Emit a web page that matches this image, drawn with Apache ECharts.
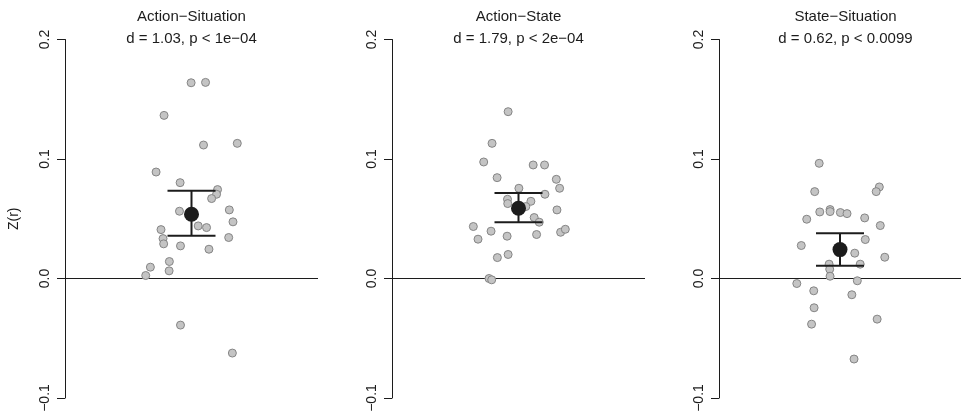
<!DOCTYPE html>
<html>
<head>
<meta charset="utf-8">
<script src="https://cdn.jsdelivr.net/npm/echarts@6/dist/echarts.min.js"></script>
<style>
  html, body { margin: 0; padding: 0; background: #ffffff; }
  #chart { width: 961px; height: 417px; }
</style>
</head>
<body>
<div id="chart"></div>
<script>
// Panel headings
const panelNames = ['Action−Situation', 'Action−State', 'State−Situation'];
const panelStats = ['d = 1.03, p < 1e−04', 'd = 1.79, p < 2e−04', 'd = 0.62, p < 0.0099'];

// Y axis ticks
const yTicks = [-0.1, 0.0, 0.1, 0.2];

// Per-subject Z(r) differences with their horizontal jitter positions (centre = 1)
const actionSituationZ = [0.1638, 0.1641, 0.1365, 0.1117, 0.1131, 0.0891, 0.0802, 0.0744, 0.0705, 0.0669,
  0.0563, 0.0574, 0.0474, 0.0440, 0.0426, 0.0409, 0.0334, 0.0290, 0.0273, 0.0343,
  0.0245, 0.0142, 0.0064, 0.0095, 0.0025, -0.0390, -0.0624];
const actionSituationJitter = [0.997, 1.111, 0.783, 1.095, 1.362, 0.720, 0.910, 1.206, 1.198, 1.159,
  0.905, 1.299, 1.328, 1.053, 1.119, 0.759, 0.775, 0.780, 0.913, 1.294,
  1.138, 0.825, 0.823, 0.675, 0.638, 0.913, 1.323];

const actionStateZ = [0.1396, 0.1131, 0.0975, 0.0950, 0.0950, 0.0844, 0.0830, 0.0755, 0.0755, 0.0705,
  0.0663, 0.0646, 0.0627, 0.0602, 0.0574, 0.0510, 0.0471, 0.0435, 0.0396, 0.0329,
  0.0354, 0.0368, 0.0387, 0.0412, 0.0201, 0.0175, 0.0000, -0.0011];
const actionStateJitter = [0.918, 0.791, 0.725, 1.116, 1.206, 0.831, 1.299, 1.325, 1.003, 1.209,
  0.913, 1.098, 0.915, 1.058, 1.304, 1.124, 1.164, 0.643, 0.783, 0.680,
  0.910, 1.143, 1.333, 1.370, 0.918, 0.833, 0.767, 0.788];

const stateSituationZ = [0.0964, 0.0727, 0.0766, 0.0727, 0.0557, 0.0577, 0.0560, 0.0552, 0.0543, 0.0496,
  0.0507, 0.0443, 0.0326, 0.0276, 0.0212, 0.0178, 0.0120, 0.0120, 0.0078, 0.0019,
  -0.0019, -0.0042, -0.0103, -0.0136, -0.0245, -0.0382, -0.0340, -0.0674];
const stateSituationJitter = [0.828, 0.791, 1.325, 1.299, 0.833, 0.918, 0.918, 1.003, 1.058, 0.725,
  1.204, 1.333, 1.209, 0.680, 1.122, 1.370, 0.910, 1.167, 0.915, 0.918,
  1.143, 0.643, 0.783, 1.098, 0.786, 0.765, 1.307, 1.116];

// Group means with confidence bounds
const panelMeans = [0.0538, 0.0588, 0.0242];
const panelLower = [0.0357, 0.0471, 0.0106];
const panelUpper = [0.0735, 0.0716, 0.0379];

const panelZ = [actionSituationZ, actionStateZ, stateSituationZ];
const panelJitter = [actionSituationJitter, actionStateJitter, stateSituationJitter];

// Layout
const gridLefts = [65, 392, 719];
const gridWidth = 253;
const gridTop = 39.5;
const gridHeight = 358.5;
const FONT = "'Liberation Sans', Arial, Helvetica, sans-serif";
const INK = '#1c1c1c';

const chart = echarts.init(document.getElementById('chart'), null, { renderer: 'canvas' });

const titles = [], grids = [], xAxes = [], yAxes = [], series = [];

panelNames.forEach((name, i) => {
  titles.push({
    text: name,
    subtext: panelStats[i],
    left: gridLefts[i] + gridWidth / 2,
    textAlign: 'center',
    top: 9,
    padding: 0,
    itemGap: 7.5,
    textStyle: { fontFamily: FONT, fontSize: 15, fontWeight: 'normal', color: INK },
    subtextStyle: { fontFamily: FONT, fontSize: 15, color: INK }
  });
  grids.push({ left: gridLefts[i], top: gridTop, width: gridWidth, height: gridHeight });
  xAxes.push({ type: 'value', gridIndex: i, min: 0, max: 2, show: false });
  yAxes.push({
    type: 'value', gridIndex: i,
    min: yTicks[0], max: yTicks[yTicks.length - 1], interval: 0.1,
    name: i === 0 ? 'Z(r)' : '',
    nameLocation: 'middle', nameRotate: 90, nameGap: 44,
    nameTextStyle: { fontFamily: FONT, fontSize: 14, color: INK },
    splitLine: { show: false },
    axisLine: { show: true, lineStyle: { color: INK, width: 1 } },
    axisTick: { show: true, length: 8, lineStyle: { color: INK, width: 1 } },
    axisLabel: {
      rotate: 90, margin: 13,
      fontFamily: FONT, fontSize: 14, color: INK,
      formatter: v => (v < -1e-9 ? '−' : '') + Math.abs(v).toFixed(1)
    }
  });

  // zero reference line
  series.push({
    type: 'line', xAxisIndex: i, yAxisIndex: i, silent: true, symbol: 'none', z: 1,
    data: [[0, 0], [2, 0]],
    lineStyle: { color: INK, width: 1, opacity: 1 }
  });

  // individual subjects
  series.push({
    type: 'scatter', xAxisIndex: i, yAxisIndex: i, z: 2,
    symbol: 'circle', symbolSize: 8,
    itemStyle: { color: '#c4c4c4', borderColor: '#858585', borderWidth: 1, opacity: 1 },
    data: panelZ[i].map((z, k) => [panelJitter[i][k], z])
  });

  // confidence interval bar
  series.push({
    type: 'custom', xAxisIndex: i, yAxisIndex: i, z: 3,
    data: [[1, panelMeans[i], panelLower[i], panelUpper[i]]],
    encode: { x: 0, y: [1, 2, 3] },
    renderItem: (params, api) => {
      const x = api.value(0);
      const top = api.coord([x, api.value(3)]);
      const bot = api.coord([x, api.value(2)]);
      const half = 24;
      const style = { stroke: INK, lineWidth: 2 };
      return {
        type: 'group',
        children: [
          { type: 'line', shape: { x1: top[0], y1: top[1], x2: bot[0], y2: bot[1] }, style },
          { type: 'line', shape: { x1: top[0] - half, y1: top[1], x2: top[0] + half, y2: top[1] }, style },
          { type: 'line', shape: { x1: bot[0] - half, y1: bot[1], x2: bot[0] + half, y2: bot[1] }, style }
        ]
      };
    }
  });

  // group mean
  series.push({
    type: 'scatter', xAxisIndex: i, yAxisIndex: i, z: 4,
    symbol: 'circle', symbolSize: 15,
    itemStyle: { color: INK, opacity: 1 },
    data: [[1, panelMeans[i]]]
  });
});

chart.setOption({
  animation: false,
  backgroundColor: '#ffffff',
  title: titles,
  grid: grids,
  xAxis: xAxes,
  yAxis: yAxes,
  series: series
});
</script>
</body>
</html>
